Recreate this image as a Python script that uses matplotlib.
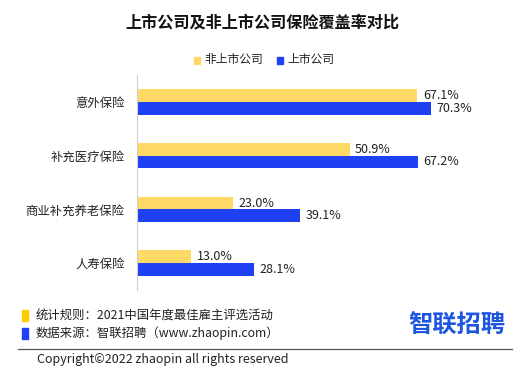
import matplotlib
matplotlib.use("Agg")
import matplotlib.pyplot as plt
from matplotlib.patches import Rectangle
import numpy as np

plt.rcParams['font.family'] = ['Noto Sans CJK SC', 'DejaVu Sans']

# data
categories = ['意外保险', '补充医疗保险', '商业补充养老保险', '人寿保险']
non_listed = [67.1, 50.9, 23.0, 13.0]
listed = [70.3, 67.2, 39.1, 28.1]
series_names = ['非上市公司', '上市公司']

yellow = '#FFD966'
blue = '#1F41F2'

fig = plt.figure(figsize=(5.25, 3.76), dpi=100)
W, H = 525, 376

# axes area in pixels: left 137, top 75, bottom 290
ax = fig.add_axes([137 / W, 1 - 290 / H, 376 / W, 215 / H])
y = np.arange(len(categories))
h = 0.235
ax.barh(y - h / 2, non_listed, height=h, color=yellow)
ax.barh(y + h / 2, listed, height=h, color=blue)
ax.set_ylim(len(categories) - 0.5, -0.5)
ax.set_xlim(0, 90)

for i, (a, b) in enumerate(zip(non_listed, listed)):
    ax.text(a + 1.3, i - h / 2, f'{a:.1f}%', va='center', ha='left', fontsize=9, color='#222222')
    ax.text(b + 1.3, i + h / 2, f'{b:.1f}%', va='center', ha='left', fontsize=9, color='#222222')

ax.set_yticks(y)
ax.set_yticklabels(categories, fontsize=8.9, color='#222222')
ax.tick_params(axis='y', length=0, pad=9)
ax.set_xticks([])
for s in ['top', 'right', 'bottom']:
    ax.spines[s].set_visible(False)
ax.spines['left'].set_color('#d0d0d0')

# title
fig.text(262 / W, 1 - 22 / H, '上市公司及非上市公司保险覆盖率对比', ha='center', va='center',
         fontsize=11.6, fontweight='bold', color='#111111')

# legend
fig.patches.append(Rectangle((194 / W, 1 - 64 / H), 6 / W, 7 / H, color=yellow, transform=fig.transFigure))
fig.text(204 / W, 1 - 60 / H, series_names[0], ha='left', va='center', fontsize=8.5, color='#222222')
fig.patches.append(Rectangle((277 / W, 1 - 64 / H), 6 / W, 7 / H, color=blue, transform=fig.transFigure))
fig.text(287 / W, 1 - 60 / H, series_names[1], ha='left', va='center', fontsize=8.5, color='#222222')

# footer notes
fig.patches.append(Rectangle((22 / W, 1 - 321 / H), 6 / W, 11 / H, color='#FFCC00', transform=fig.transFigure))
fig.text(36 / W, 1 - 315 / H, '统计规则：2021中国年度最佳雇主评选活动', ha='left', va='center',
         fontsize=8.9, color='#222222')
fig.patches.append(Rectangle((22 / W, 1 - 339 / H), 6 / W, 11 / H, color='#1F41F5', transform=fig.transFigure))
fig.text(36 / W, 1 - 333 / H, '数据来源：智联招聘（www.zhaopin.com）', ha='left', va='center',
         fontsize=8.9, color='#222222')

# logo text
fig.text(457 / W, 1 - 326 / H, '智联招聘', ha='center', va='center', fontsize=17.5,
         fontweight='bold', color='#1D55E0')

# separator line and copyright
fig.add_artist(plt.Line2D([18 / W, 512 / W], [1 - 349 / H, 1 - 349 / H], color='#555555', lw=0.9))
fig.text(37 / W, 1 - 359 / H, 'Copyright©2022 zhaopin all rights reserved', ha='left', va='center',
         fontsize=9, color='#222222')

fig.savefig('out.png', dpi=100)
